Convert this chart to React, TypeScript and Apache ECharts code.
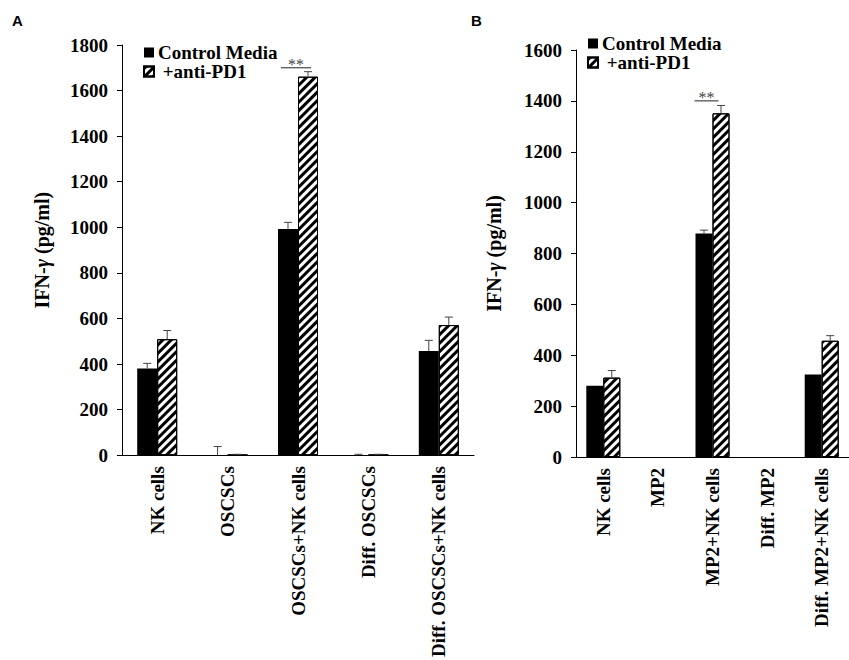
import React, { useEffect, useRef } from "react";
import * as echarts from "echarts";

const categoriesA = ["NK cells", "OSCSCs", "OSCSCs+NK cells", "Diff. OSCSCs", "Diff. OSCSCs+NK cells"];
const controlA = [381, 0, 993, 1, 457];
const antiA = [509, 1, 1661, 1, 571];
const controlErrA = [22, 38, 29, 3, 47];
const antiErrA = [38, 3, 22, 3, 35];

const categoriesB = ["NK cells", "MP2", "MP2+NK cells", "Diff. MP2", "Diff. MP2+NK cells"];
const controlB = [280, null, 879, null, 324];
const antiB = [312, null, 1351, null, 457];
const controlErrB = [0, 0, 13, 0, 0];
const antiErrB = [28, 0, 31, 0, 20];

const yTicksA = { min: 0, max: 1800, interval: 200 };
const yTicksB = { min: 0, max: 1600, interval: 200 };

// significance markers: [category index, value of bracket line]
const sigA = [[2, 1700]];
const sigB = [[2, 1400]];

const SERIF = "'Liberation Serif', 'Times New Roman', serif";

const hatch = {
  symbol: "rect",
  symbolSize: 1,
  color: "#000",
  dashArrayX: [1, 0],
  dashArrayY: [3, 3],
  rotation: -Math.PI / 4,
};

function errData(vals: (number | null)[], errs: number[]) {
  const out: number[][] = [];
  vals.forEach((v, i) => {
    if (v !== null && errs[i] > 0) out.push([i, v + errs[i], v]);
  });
  return out;
}

function errSeries(gridIdx: number, data: number[][], offset: number) {
  return {
    type: "custom",
    xAxisIndex: gridIdx,
    yAxisIndex: gridIdx,
    z: 5,
    silent: true,
    data,
    renderItem: (params: any, api: any) => {
      const c = api.value(0);
      const hi = api.value(1);
      const lo = api.value(2);
      const p0 = api.coord([c, lo]);
      const p1 = api.coord([c, hi]);
      const x = p0[0] + offset;
      const st = { stroke: "#444", lineWidth: 1 };
      return {
        type: "group",
        children: [
          { type: "line", shape: { x1: x, y1: p0[1], x2: x, y2: p1[1] }, style: st },
          { type: "line", shape: { x1: x - 4, y1: p1[1], x2: x + 4, y2: p1[1] }, style: st },
        ],
      };
    },
  };
}

function sigSeries(gridIdx: number, data: number[][], shift: number, half: number) {
  return {
    type: "custom",
    xAxisIndex: gridIdx,
    yAxisIndex: gridIdx,
    z: 5,
    silent: true,
    data,
    renderItem: (params: any, api: any) => {
      const p = api.coord([api.value(0), api.value(1)]);
      const x = p[0] + shift;
      return {
        type: "group",
        children: [
          { type: "line", shape: { x1: x - half, y1: p[1], x2: x + half, y2: p[1] }, style: { stroke: "#222", lineWidth: 1 } },
          {
            type: "text",
            style: {
              text: "**",
              x: x,
              y: p[1] + 5,
              textAlign: "center",
              textVerticalAlign: "bottom",
              font: "16px " + SERIF,
              fill: "#444",
            },
          },
        ],
      };
    },
  };
}

function xAxis(gridIdx: number, cats: string[]) {
  return {
    type: "category",
    gridIndex: gridIdx,
    data: cats,
    axisLine: { lineStyle: { color: "#000", width: 1 } },
    axisTick: { show: false },
    axisLabel: {
      rotate: 90,
      interval: 0,
      margin: 11,
      color: "#000",
      fontFamily: SERIF,
      fontWeight: "bold",
      fontSize: 19,
    },
  };
}

function yAxis(gridIdx: number, t: any, gap: number) {
  return {
    type: "value",
    gridIndex: gridIdx,
    min: t.min,
    max: t.max,
    interval: t.interval,
    name: "IFN-{i|γ} (pg/ml)",
    nameLocation: "middle",
    nameGap: gap,
    nameRotate: 90,
    nameTextStyle: {
      color: "#000",
      fontFamily: SERIF,
      fontWeight: "bold",
      fontSize: 20,
      rich: { i: { fontStyle: "italic", fontFamily: SERIF, fontWeight: "bold", fontSize: 20, color: "#000" } },
    },
    axisLine: { show: true, lineStyle: { color: "#000", width: 1 } },
    axisTick: { show: true, length: 5, lineStyle: { color: "#000" } },
    splitLine: { show: false },
    axisLabel: {
      margin: 14,
      color: "#000",
      fontFamily: SERIF,
      fontWeight: "bold",
      fontSize: 19,
      formatter: (v: number) => String(v),
    },
  };
}

function legend(left: number, top: number) {
  return {
    orient: "vertical",
    left,
    top,
    itemWidth: 10,
    itemHeight: 10,
    itemGap: 0,
    padding: 0,
    icon: "rect",
    selectedMode: false,
    data: ["Control Media", "+anti-PD1"],
    formatter: (n: string) => (n === "+anti-PD1" ? " +anti-PD1" : n),
    textStyle: { color: "#000", fontFamily: SERIF, fontWeight: "bold", fontSize: 19, padding: [0, 0, 0, -1] },
  };
}

function bars(gridIdx: number, ctrl: (number | null)[], anti: (number | null)[], w: number) {
  return [
    {
      name: "Control Media",
      type: "bar",
      xAxisIndex: gridIdx,
      yAxisIndex: gridIdx,
      data: ctrl,
      barWidth: w,
      barGap: "0%",
      itemStyle: { color: "#000" },
    },
    {
      name: "+anti-PD1",
      type: "bar",
      xAxisIndex: gridIdx,
      yAxisIndex: gridIdx,
      data: anti,
      barWidth: w,
      barGap: "0%",
      itemStyle: { color: "#fff", borderColor: "#000", borderWidth: 1, decal: hatch },
    },
  ];
}

export default function App() {
  const ref = useRef<HTMLDivElement>(null);
  useEffect(() => {
    document.body.style.margin = "0";
    const chart = echarts.init(ref.current!, null, { renderer: "svg" });
    const option: any = {
      animation: false,
      backgroundColor: "#fff",
      grid: [
        { left: 122, top: 45, width: 352, height: 411 },
        { left: 576, top: 50, width: 285, height: 407 },
      ],
      legend: [legend(143, 43), legend(587, 34)],
      xAxis: [xAxis(0, categoriesA), xAxis(1, categoriesB)],
      yAxis: [yAxis(0, yTicksA, 70), yAxis(1, yTicksB, 72)],
      graphic: [
        { type: "text", left: 12, top: 13, style: { text: "A", font: "bold 15px 'Liberation Sans', Arial, sans-serif", fill: "#000" } },
        { type: "text", left: 471, top: 13, style: { text: "B", font: "bold 15px 'Liberation Sans', Arial, sans-serif", fill: "#000" } },
      ],
      series: [
        ...bars(0, controlA, antiA, 20),
        ...bars(1, controlB, antiB, 17),
        errSeries(0, errData(controlA, controlErrA), -10),
        errSeries(0, errData(antiA, antiErrA), 10),
        errSeries(1, errData(controlB, controlErrB), -8.5),
        errSeries(1, errData(antiB, antiErrB), 8.5),
        sigSeries(0, sigA, -2, 15),
        sigSeries(1, sigB, -6, 12),
      ],
    };
    chart.setOption(option);
    return () => chart.dispose();
  }, []);
  return <div ref={ref} style={{ width: 849, height: 660 }} />;
}
